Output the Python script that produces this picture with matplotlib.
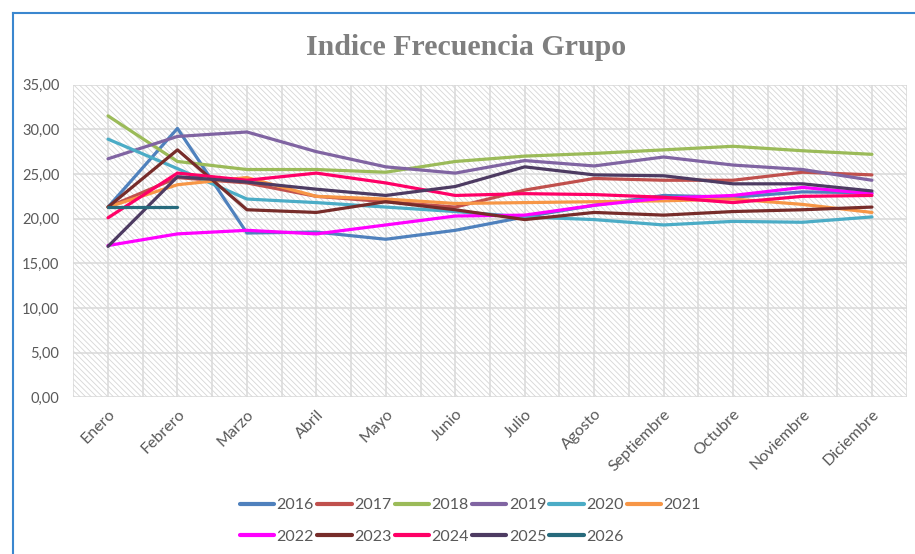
import matplotlib
matplotlib.use("Agg")
import matplotlib.pyplot as plt
from matplotlib.patches import Rectangle
from matplotlib.lines import Line2D
from matplotlib.ticker import FuncFormatter, MultipleLocator

months = ["Enero", "Febrero", "Marzo", "Abril", "Mayo", "Junio", "Julio",
          "Agosto", "Septiembre", "Octubre", "Noviembre", "Diciembre"]

y2016 = [21.3, 30.1, 18.4, 18.5, 17.7, 18.7, 20.2, 21.5, 22.6, 22.4, 23.0, 22.9]
y2017 = [21.3, 24.6, 24.0, 22.5, 21.9, 21.3, 23.2, 24.5, 24.3, 24.3, 25.2, 24.9]
y2018 = [31.5, 26.4, 25.5, 25.5, 25.2, 26.4, 27.0, 27.3, 27.7, 28.1, 27.6, 27.2]
y2019 = [26.7, 29.2, 29.7, 27.5, 25.8, 25.1, 26.5, 25.9, 26.9, 26.0, 25.5, 24.3]
y2020 = [28.9, 25.6, 22.2, 21.8, 21.3, 20.8, 20.2, 19.9, 19.3, 19.7, 19.6, 20.2]
y2021 = [21.3, 23.8, 24.6, 22.5, 22.2, 21.7, 21.8, 21.9, 22.0, 22.2, 21.6, 20.7]
y2022 = [17.0, 18.3, 18.7, 18.3, 19.3, 20.3, 20.4, 21.5, 22.3, 22.6, 23.5, 22.8]
y2023 = [21.3, 27.7, 21.0, 20.7, 21.9, 21.0, 19.9, 20.7, 20.4, 20.8, 21.0, 21.3]
y2024 = [20.1, 25.1, 24.3, 25.1, 24.0, 22.6, 22.8, 22.7, 22.4, 21.8, 22.5, 22.6]
y2025 = [16.9, 24.7, 24.1, 23.3, 22.6, 23.6, 25.8, 24.9, 24.8, 23.9, 23.9, 23.1]
y2026 = [21.3, 21.3]

years = ["2016", "2017", "2018", "2019", "2020", "2021",
         "2022", "2023", "2024", "2025", "2026"]
series = [y2016, y2017, y2018, y2019, y2020, y2021,
          y2022, y2023, y2024, y2025, y2026]
colors = ["#4F81BD", "#C0504D", "#9BBB59", "#8064A2", "#4BACC6", "#F79646",
          "#FF00FF", "#772C2A", "#FF0066", "#4D3B62", "#276A7C"]

plt.rcParams['hatch.color'] = '#d6d6d6'
plt.rcParams['hatch.linewidth'] = 0.6

fig = plt.figure(figsize=(9.15, 5.54), dpi=100)
ax = fig.add_axes([0.0801, 0.2825, 0.9108, 0.5648])

ax.set_xlim(-0.5, 11.5)
ax.set_ylim(0, 35)

# hatched background
bg = Rectangle((0, 0), 1, 1, transform=ax.transAxes, facecolor='white',
               edgecolor='#d6d6d6', hatch='\\\\\\\\\\\\', linewidth=0, zorder=0)
ax.add_patch(bg)

# gridlines
for v in range(0, 36, 5):
    ax.axhline(v, color='#d9d9d9', lw=1.1, zorder=1)
for k in range(0, 25):
    ax.axvline(-0.5 + k * 0.5, color='#d9d9d9', lw=1.1, zorder=1)

x = list(range(len(months)))
handles = []
for name, vals, c in zip(years, series, colors):
    h, = ax.plot(x[:len(vals)], vals, color=c, lw=2.3, label=name,
                 solid_capstyle='round', solid_joinstyle='round', zorder=3)
    handles.append(h)

for s in ax.spines.values():
    s.set_visible(False)

ax.set_xticks(x)
ax.set_xticklabels(months)
ax.yaxis.set_major_locator(MultipleLocator(5))
ax.yaxis.set_major_formatter(FuncFormatter(lambda v, p: f"{v:.2f}".replace('.', ',')))
ax.tick_params(axis='both', length=0, colors='#595959')
ax.tick_params(axis='y', pad=10)
ax.tick_params(axis='x', pad=7)
for lab in ax.get_yticklabels():
    lab.set_fontfamily('Lato')
    lab.set_fontsize(10.5)
for lab in ax.get_xticklabels():
    lab.set_fontfamily('Lato')
    lab.set_fontsize(11.5)
    lab.set_rotation(45)
    lab.set_ha('right')
    lab.set_rotation_mode('anchor')

fig.text(0.509, 0.915, "Indice Frecuencia Grupo", ha='center', va='center',
         fontsize=21.5, fontweight='bold', color='#7f7f7f', family='Liberation Serif')

order = [0, 6, 1, 7, 2, 8, 3, 9, 4, 10, 5]
leg = fig.legend([handles[i] for i in order], [years[i] for i in order],
                 loc='center', bbox_to_anchor=(0.514, 0.0596), ncol=6,
                 frameon=False, prop={'family': 'Lato', 'size': 11.5},
                 handlelength=2.15, handletextpad=0.15, columnspacing=0.2,
                 labelspacing=1.1, labelcolor='#595959')
for lh in leg.get_lines():
    lh.set_linewidth(3)

# chart border (left and top visible)
fig.add_artist(Line2D([13 / 915, 13 / 915], [0, 1 - 13 / 554], color='#3A87CF', lw=1.5,
                      transform=fig.transFigure))
fig.add_artist(Line2D([13 / 915, 1], [1 - 13 / 554, 1 - 13 / 554], color='#3A87CF', lw=1.5,
                      transform=fig.transFigure))

fig.savefig("out.png", dpi=100, facecolor='white')
